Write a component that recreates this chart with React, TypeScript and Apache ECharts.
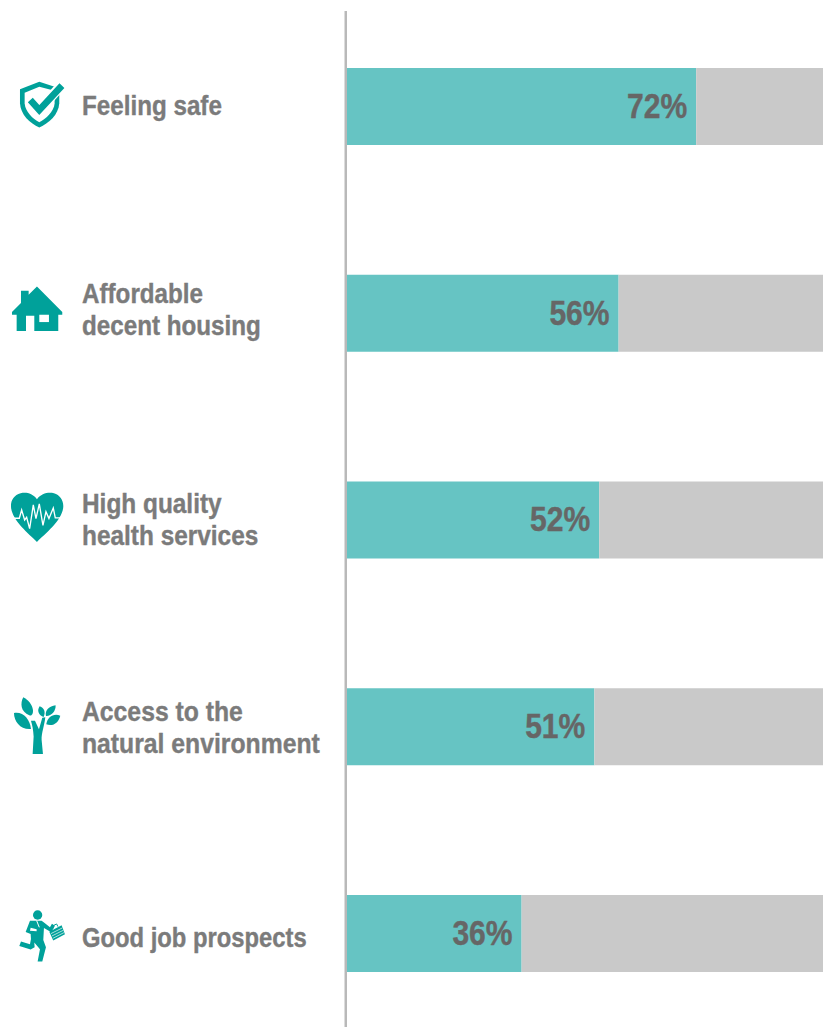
import React, { useEffect, useRef } from "react";
import * as echarts from "echarts";

const categories = ["Feeling safe", "Affordable\ndecent housing", "High quality\nhealth services", "Access to the\nnatural environment", "Good job prospects"];
const shares = [72, 56, 52, 51, 36];
const remainders = shares.map((v) => 100 - v);

const labelNudgeY = [-1.5, -3.5, -0.5, 0.5, 3.5];
const labelSqueeze = [0.865, 0.865, 0.872, 0.884, 0.85];

const TEAL = "#00a19a";
const WHITE = "#ffffff";
const FONT = "'Liberation Sans', Arial, sans-serif";

type Icon = { name: string; d: string; oy: number; fill?: string; stroke?: string; lw?: number };
const icons: Icon[] = [
  { name: "shieldOuter", oy: 60, fill: TEAL, d: "M118 65 L60 88 L60 130 C62 165 90 190 118 203 C146 190 176 165 178 130 L178 85 L118 65 Z" },
  { name: "shieldInner", oy: 60, fill: WHITE, d: "M118 80 L74 98 L74 130 C76 156 98 176 118 187 C138 176 162 156 164 130 L164 92 L118 80 Z" },
  { name: "checkHalo", oy: 60, fill: "none", stroke: WHITE, lw: 30, d: "M92 120 L118 150 L188 72" },
  { name: "checkMark", oy: 60, fill: "none", stroke: TEAL, lw: 20, d: "M91 120 L118 150 L186 77" },
  { name: "house", oy: 60, fill: TEAL, d: "M111 680 L187 757 L187 765 L175 765 L175 814 L50 814 L50 765 L36 765 L36 757 L63 730 L63 693 L86 693 L86 705 Z" },
  { name: "houseDoor", oy: 60, fill: WHITE, d: "M78 768 L103 768 L103 816 L78 816 Z" },
  { name: "houseWindow", oy: 60, fill: WHITE, d: "M118 765 L147 765 L147 787 L118 787 Z" },
  { name: "heart", oy: 470, fill: TEAL, d: "M111 88 C98 70 78 66 62 70 C42 75 32 92 33 110 C35 150 85 190 111 216 C137 190 188 150 190 110 C191 92 180 75 162 70 C145 66 124 70 111 88 Z" },
  { name: "pulse", oy: 470, fill: "none", stroke: WHITE, lw: 4, d: "M42 145 L58 145 L65 120 L74 150 L80 142 L89 176 L100 105 L108 146 L118 102 L129 166 L138 125 L147 146 L160 114 L166 144 L182 144" },
  { name: "treeTrunk", oy: 680, fill: TEAL, d: "M98 222 L101 170 C100 150 97 135 93 122 L105 122 L117 148 L127 113 L136 112 C134 135 124 160 125 180 L129 222 Z" },
  { name: "leafTop", oy: 680, fill: TEAL, d: "M70 52 C60 70 62 96 88 106 C96 109 100 100 99 90 C96 72 84 60 70 52 Z" },
  { name: "leafLeft", oy: 680, fill: TEAL, d: "M42 99 C42 125 62 150 93 147 C90 118 70 94 42 99 Z" },
  { name: "leafSmall", oy: 680, fill: TEAL, d: "M119 79 C110 92 116 106 131 111 C137 98 134 84 119 79 Z" },
  { name: "leafUpper", oy: 680, fill: TEAL, d: "M167 76 C148 78 134 92 138 108 C154 109 168 94 167 76 Z" },
  { name: "leafLower", oy: 680, fill: TEAL, d: "M181 107 C162 99 142 110 139 133 C160 140 176 128 181 107 Z" },
  { name: "runnerHead", oy: 890, fill: TEAL, d: "M99 75 a14 14 0 1 0 28 0 a14 14 0 1 0 -28 0 Z" },
  { name: "runnerBody", oy: 890, fill: TEAL, d: "M90 92 L125 92 L135 100 L150 112 L156 101 L165 107 L154 127 L132 114 L130 150 L138 172 L127 215 L113 215 L120 178 L103 158 L104 172 L92 179 L58 168 L63 155 L90 163 L93 147 L92 132 L77 126 Z" },
  { name: "runnerArm", oy: 890, fill: WHITE, d: "M92 113 L110 118 L110 124 L90 122 Z" },
  { name: "runnerTie", oy: 890, fill: "none", stroke: WHITE, lw: 3, d: "M110 92 L118 112" },
  { name: "caseBody", oy: 890, fill: TEAL, d: "M148 125 L185 106 L195 133 L160 152 Z" },
  { name: "caseHandle", oy: 890, fill: "none", stroke: TEAL, lw: 3, d: "M160 115 L158 108 L170 102 L174 110" },
  { name: "caseLines", oy: 890, fill: "none", stroke: WHITE, lw: 2, d: "M153 131 L187 114 M156 138 L190 121 M159 145 L192 128" },
];

icons.forEach((i) => echarts.graphic.registerShape(i.name, echarts.graphic.extendPath(i.d, {})));

export default function App() {
  const ref = useRef<HTMLDivElement>(null);
  useEffect(() => {
    document.body.style.margin = "0";
    const chart = echarts.init(ref.current!, null, { renderer: "svg" });
    chart.setOption({
      animation: false,
      backgroundColor: "#ffffff",
      grid: { left: 347, top: 3.1, width: 476, height: 1033.75, outerBoundsMode: "none" },
      xAxis: { type: "value", min: 0, max: 98.14, show: false },
      yAxis: {
        type: "category",
        inverse: true,
        data: categories,
        axisLine: { show: false },
        axisTick: { show: false },
        axisLabel: { show: false },
      },
      series: [
        { type: "bar", stack: "total", data: shares, barWidth: 77, itemStyle: { color: "#66c4c3" } },
        { type: "bar", stack: "total", data: remainders, barWidth: 77, itemStyle: { color: "#c9c9c9" } },
        {
          type: "custom",
          silent: true,
          z: 10,
          encode: { x: 0, y: 1 },
          data: shares.map((v, i) => [v, i]),
          renderItem: (_p: any, api: any) => {
            const pt = api.coord([api.value(0), api.value(1)]);
            return {
              type: "text",
              x: pt[0] - 9,
              y: pt[1] - 1,
              scaleX: 0.86,
              style: {
                text: api.value(0) + "%",
                align: "right",
                verticalAlign: "middle",
                fontFamily: FONT,
                fontWeight: "bold",
                fontSize: 35,
                fill: "#666666",
                stroke: "#666666",
                lineWidth: 0.4,
              },
            };
          },
        },
        {
          type: "custom",
          silent: true,
          z: 10,
          encode: { x: 0, y: 1 },
          data: categories.map((_c, i) => [0, i]),
          renderItem: (_p: any, api: any) => {
            const i = api.value(1);
            const pt = api.coord([0, i]);
            return {
              type: "text",
              x: 82,
              y: pt[1] + labelNudgeY[i],
              scaleX: labelSqueeze[i],
              style: {
                text: categories[i],
                align: "left",
                verticalAlign: "middle",
                fontFamily: FONT,
                fontWeight: "bold",
                fontSize: 28,
                lineHeight: 32,
                fill: "#7b7b7b",
                stroke: "#7b7b7b",
                lineWidth: 0.4,
              },
            };
          },
        },
      ],
      graphic: [
        { type: "rect", shape: { x: 344.5, y: 11, width: 2.5, height: 1016 }, style: { fill: "#b9b9b9" } },
        ...icons.map((i) => ({
          type: i.name,
          x: 0,
          y: i.oy,
          scaleX: 1 / 3,
          scaleY: 1 / 3,
          style: { fill: i.fill, stroke: i.stroke, lineWidth: i.lw ?? 0, lineJoin: "miter" },
        })),
      ],
    });
    return () => chart.dispose();
  }, []);
  return <div ref={ref} style={{ width: 823, height: 1027 }} />;
}
